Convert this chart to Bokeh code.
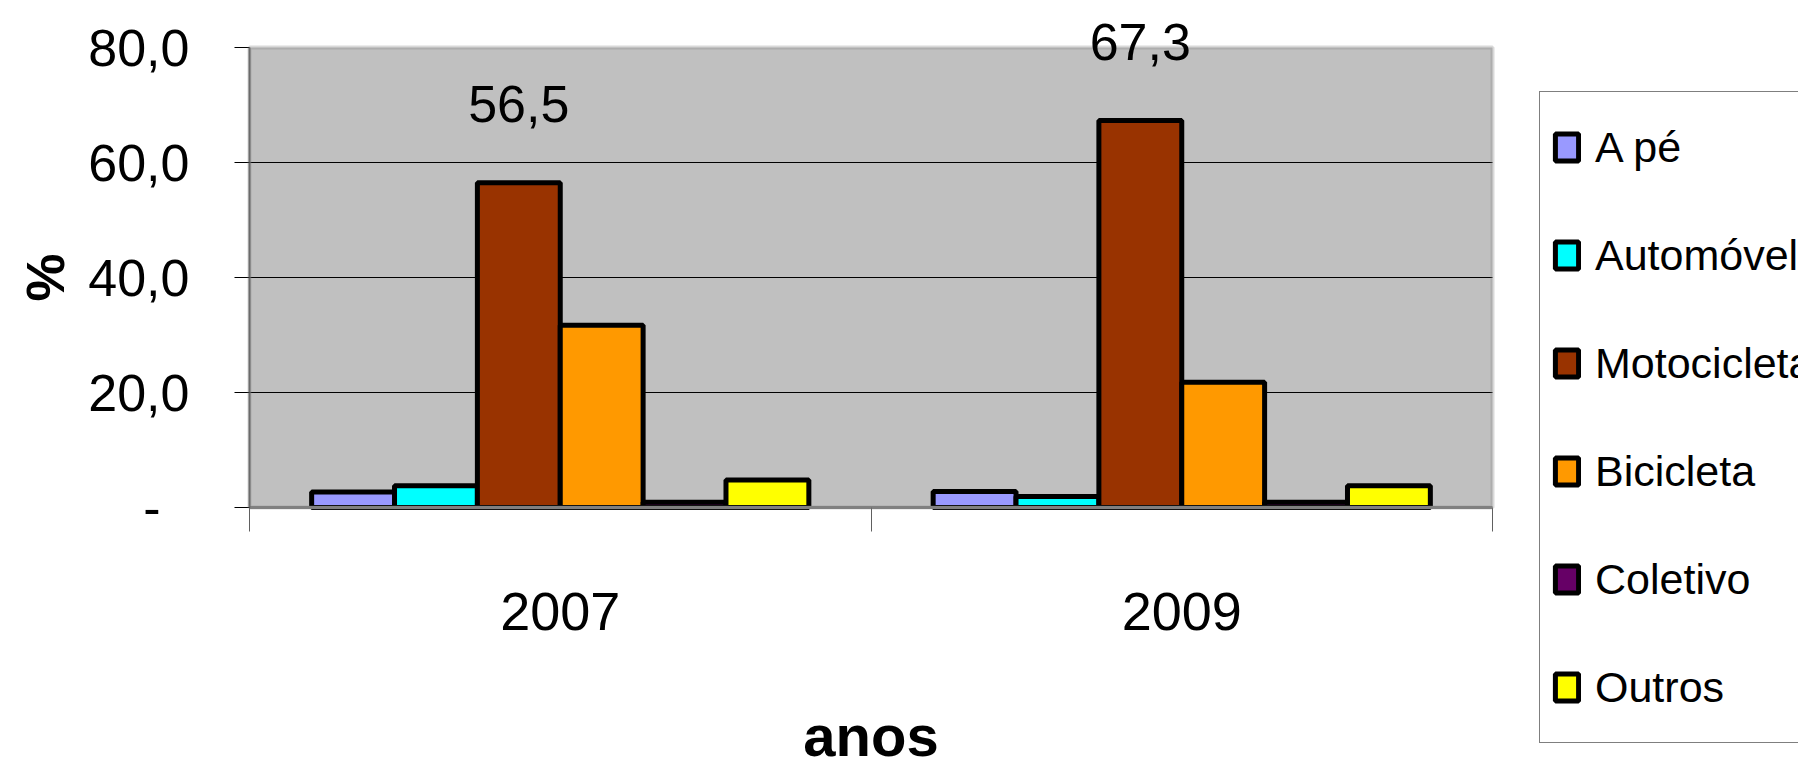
from bokeh.plotting import figure
from bokeh.models import (ColumnDataSource, FixedTicker, CustomJSTickFormatter, Legend,
                          LegendItem, LabelSet, Range1d, BoxAnnotation, LinearAxis)
from bokeh.core.properties import value
from bokeh.transform import dodge
from bokeh.embed import file_html
from bokeh.resources import INLINE

# ---- data ----
years = ["2007", "2009"]
modes = ["A pé", "Automóvel", "Motocicleta", "Bicicleta", "Coletivo", "Outros"]
a_pe = [2.7, 2.8]
automovel = [3.8, 1.9]
motocicleta = [56.5, 67.3]
bicicleta = [31.7, 21.8]
coletivo = [0.9, 0.9]
outros = [4.8, 3.8]
colors = ["#9999FF", "#00FFFF", "#993300", "#FF9900", "#660066", "#FFFF00"]
y_ticks = [0, 20, 40, 60, 80]
y_max = 80

FONT = "Liberation Sans"

series = [a_pe, automovel, motocicleta, bicicleta, coletivo, outros]
cols = ["a_pe", "automovel", "motocicleta", "bicicleta", "coletivo", "outros"]
data = {"x": [i + 0.5 for i in range(len(years))]}
for c, s in zip(cols, series):
    data[c] = s
data["moto_txt"] = [f"{v:.1f}".replace(".", ",") for v in motocicleta]
src = ColumnDataSource(data)

# ---- layout (pixels of the 1798x766 canvas) ----
W, H = 1798, 766
AREA_L, AREA_R, AREA_T, AREA_B = 249, 1492, 47, 507   # plot-area box
nx = len(years)
px_x = (AREA_R - AREA_L) / nx
px_y = (AREA_B - AREA_T) / y_max
x_rng = Range1d(-AREA_L / px_x, nx + (W - AREA_R) / px_x)
y_rng = Range1d(-(H - AREA_B) / px_y, y_max + AREA_T / px_y)

p = figure(width=W, height=H, x_range=x_rng, y_range=y_rng,
           x_axis_location=None, y_axis_location=None,
           output_backend="svg", toolbar_location=None, min_border=0)
p.background_fill_color = "white"
p.border_fill_color = "white"
p.outline_line_color = None
p.grid.visible = False

# plot-area fill (under the glyphs)
p.add_layout(BoxAnnotation(bottom=0, top=y_max, left=0, right=nx, fill_color="#C0C0C0",
                           fill_alpha=1.0, line_alpha=0, level="underlay"))

# horizontal gridlines across the plot area only
p.segment(x0=0, x1=nx, y0=y_ticks[1:-1], y1=y_ticks[1:-1], line_color="black", line_width=1)

n = len(modes)
w = 1.0 / (n + 1.5)
items = []
for k, (c, m, col) in enumerate(zip(cols, modes, colors)):
    off = (k - (n - 1) / 2) * w
    r = p.vbar(x=dodge("x", off, range=p.x_range), top=c, bottom=0, width=w, source=src,
               fill_color=col, line_color="black", line_width=5)
    items.append(LegendItem(label=m, renderers=[r]))

# plot-area border
p.add_layout(BoxAnnotation(bottom=0, top=y_max, left=0, right=nx, fill_alpha=0,
                           line_color="#808080", line_width=4))

# y axis at x = 0
ya = LinearAxis(fixed_location=0, bounds=(0, y_max))
ya.ticker = FixedTicker(ticks=y_ticks)
ya.formatter = CustomJSTickFormatter(
    code="return tick == 0 ? '-\u00a0\u00a0' : tick.toFixed(1).replace('.', ',');")
ya.major_label_text_font = FONT
ya.major_label_text_font_size = "52px"
ya.major_label_text_color = "black"
ya.major_tick_out = 15
ya.major_tick_in = 0
ya.minor_tick_out = 0
ya.minor_tick_in = 0
ya.major_tick_line_color = "black"
ya.major_label_standoff = 45
ya.axis_line_color = "#606060"
ya.axis_line_width = 2
ya.axis_label = "%"
ya.axis_label_text_font = FONT
ya.axis_label_text_font_style = "bold"
ya.axis_label_text_font_size = "54px"
ya.axis_label_text_color = "black"
ya.axis_label_standoff = 10
p.add_layout(ya, "left")

# x axis at y = 0
xa = LinearAxis(fixed_location=0, bounds=(0, nx))
xa.ticker = FixedTicker(ticks=data["x"], minor_ticks=list(range(nx + 1)))
xa.major_label_overrides = {x: y for x, y in zip(data["x"], years)}
xa.major_label_text_font = FONT
xa.major_label_text_font_size = "54px"
xa.major_label_text_color = "black"
xa.major_tick_out = 0
xa.major_tick_in = 0
xa.minor_tick_out = 24
xa.minor_tick_in = 0
xa.minor_tick_line_color = "#606060"
xa.major_label_standoff = 61
xa.axis_line_color = "#808080"
xa.axis_line_width = 3
xa.axis_label = "anos"
xa.axis_label_text_font = FONT
xa.axis_label_text_font_style = "bold"
xa.axis_label_text_font_size = "58px"
xa.axis_label_text_color = "black"
xa.axis_label_standoff = 70
p.add_layout(xa, "below")

# value labels on Motocicleta bars
moto_off = (2 - (n - 1) / 2) * w
labels = LabelSet(x=dodge("x", moto_off, range=p.x_range), y="motocicleta", text="moto_txt",
                  source=src, text_align="center", text_baseline="middle", y_offset=79,
                  text_font=value(FONT), text_font_size=value("52px"), text_color="black")
p.add_layout(labels)

# legend, cut at the window edge as in the reference
legend = Legend(items=items, location=(1539, H - 743), orientation="vertical",
                label_text_font=FONT, label_text_font_size="43px", label_text_color="black",
                label_height=86, glyph_height=34, glyph_width=29, label_standoff=14,
                padding=12, spacing=22, margin=0,
                border_line_color="black", border_line_width=1,
                background_fill_color="white", background_fill_alpha=1.0)
p.add_layout(legend)

open("out.html", "w").write(file_html(p, INLINE))
